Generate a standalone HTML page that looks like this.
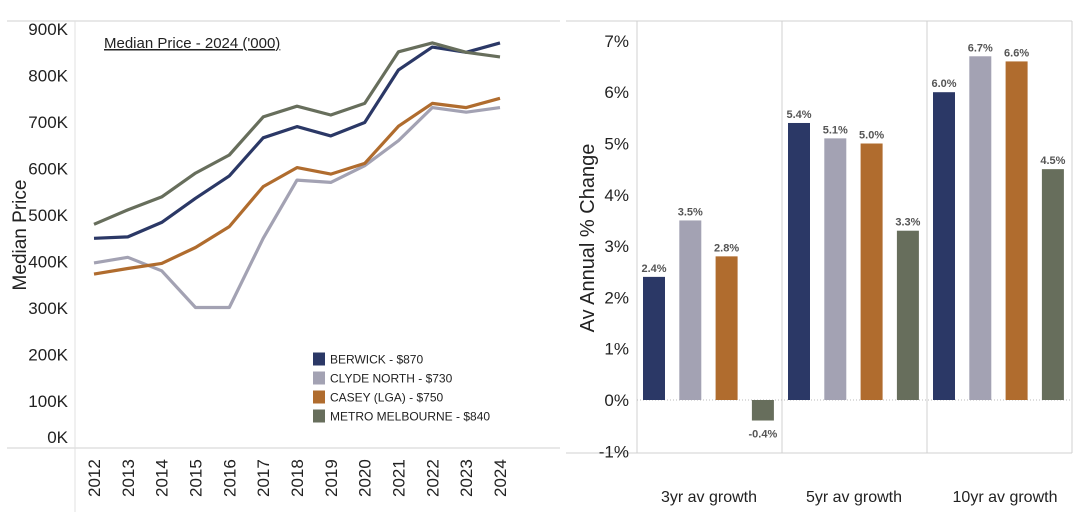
<!DOCTYPE html>
<html><head><meta charset="utf-8">
<style>
html,body{margin:0;padding:0;background:#fff;}
svg{display:block;font-family:"Liberation Sans",sans-serif;}
</style></head>
<body>
<svg id="s" width="1078" height="531" viewBox="0 0 1078 531" xmlns="http://www.w3.org/2000/svg">
<g id="left">
  <line x1="7" y1="21" x2="560" y2="21" stroke="#d0d0d0"/>
  <line x1="7" y1="448" x2="560" y2="448" stroke="#d0d0d0"/>
  <line x1="75" y1="21" x2="75" y2="512" stroke="#e0e0e0"/>
  <text x="104" y="48" font-size="15" fill="#222" text-decoration="underline">Median Price  - 2024 ('000)</text>
  <text transform="translate(26,235) rotate(-90)" text-anchor="middle" font-size="19" fill="#222">Median Price</text>
</g>
<g id="right">
  <line x1="566" y1="21" x2="1072" y2="21" stroke="#d0d0d0"/>
  <line x1="566" y1="453" x2="1072" y2="453" stroke="#d0d0d0"/>
  <line x1="637" y1="21" x2="637" y2="453" stroke="#d0d0d0"/>
  <line x1="782" y1="21" x2="782" y2="453" stroke="#d0d0d0"/>
  <line x1="927" y1="21" x2="927" y2="453" stroke="#d0d0d0"/>
  <line x1="1072" y1="21" x2="1072" y2="453" stroke="#d0d0d0"/>
  <text transform="translate(594,238) rotate(-90)" text-anchor="middle" font-size="20" fill="#222">Av Annual % Change</text>
</g>
</svg>
<script>
const years=[2012,2013,2014,2015,2016,2017,2018,2019,2020,2021,2022,2023,2024];
const berwick=[450,453,484,536,584,666,690,670,699,812,861,850,870];
const clyde=[397,409,380,301,301,450,575,570,606,660,731,721,731];
const casey=[373,385,396,430,475,561,602,588,611,691,740,731,751];
const metro=[480,511,539,590,629,711,734,715,740,851,870,850,840];
const priceTicks=[0,100,200,300,400,500,600,700,800,900];
const seriesNames=["BERWICK - $870","CLYDE NORTH - $730","CASEY (LGA) - $750","METRO MELBOURNE - $840"];
const categories=["3yr av growth","5yr av growth","10yr av growth"];
const growthBerwick=[2.4,5.4,6.0];
const growthClyde=[3.5,5.1,6.7];
const growthCasey=[2.8,5.0,6.6];
const growthMetro=[-0.4,3.3,4.5];
const pctTicks=[-1,0,1,2,3,4,5,6,7];

const colors=["#2b3866","#a3a2b3","#b06c2e","#676e5c"];
const NS="http://www.w3.org/2000/svg";
function mk(tag,attrs,parent,txt){const e=document.createElementNS(NS,tag);for(const k in attrs)e.setAttribute(k,attrs[k]);if(txt!==undefined)e.textContent=txt;parent.appendChild(e);return e;}
const L=document.getElementById('left'),R=document.getElementById('right');

// left axes
const xL=i=>94+i*(500-94)/(years.length-1);
const yL=v=>447.5-v*0.465;
priceTicks.forEach(v=>{
  let y=yL(v)+6; if(v===0) y=443;
  const t=mk('text',{x:68,y:y,'text-anchor':'end','font-size':17,fill:'#222'},L,v+'K');
  
  
});
years.forEach((yr,i)=>{
  const t=mk('text',{transform:`translate(${xL(i)+6},497) rotate(-90)`,'font-size':17,fill:'#222'},L,String(yr));
  
  
});
[berwick,clyde,casey,metro].forEach((s,k)=>{
  const d=s.map((v,i)=>(i?'L':'M')+xL(i).toFixed(1)+','+yL(v).toFixed(1)).join(' ');
  const p=mk('path',{d:d,fill:'none',stroke:colors[k],'stroke-width':3.2,'stroke-linejoin':'round'},L);
  
  
});
seriesNames.forEach((n,k)=>{
  const y=359+k*19;
  const r=mk('rect',{x:313,y:y-6.5,width:12,height:13,fill:colors[k]},L);
  
  
  const t=mk('text',{x:330,y:y+4.5,'font-size':12,fill:'#222'},L,n);
  
  
});

// right axes
const yR=v=>400-v*51.3;
const gx=g=>637+g*145;
const zl=mk('line',{x1:637,y1:400,x2:1072,y2:400,stroke:'#bbb','stroke-dasharray':'1,2'},R);


pctTicks.forEach(v=>{
  const t=mk('text',{x:629,y:yR(v)+6,'text-anchor':'end','font-size':17,fill:'#222'},R,v+'%');
  
  
});
categories.forEach((c,g)=>{
  const t=mk('text',{x:gx(g)+72+(g===2?6:0),y:502,'text-anchor':'middle','font-size':16,fill:'#222'},R,c);
  
  
});
[growthBerwick,growthClyde,growthCasey,growthMetro].forEach((s,k)=>{
  s.forEach((v,g)=>{
    const cx=gx(g)+17+k*36.3;
    const y0=yR(0),y1=yR(v);
    const b=mk('rect',{x:cx-11,y:Math.min(y0,y1),width:22,height:Math.abs(y1-y0),fill:colors[k]},R);
    
    
    const ly=v>=0?y1-5:y1+17;
    const t=mk('text',{x:cx,y:ly,'text-anchor':'middle','font-size':11,'font-weight':'bold',fill:'#555'},R,v.toFixed(1)+'%');
    
    
  });
});
</script>
</body></html>
